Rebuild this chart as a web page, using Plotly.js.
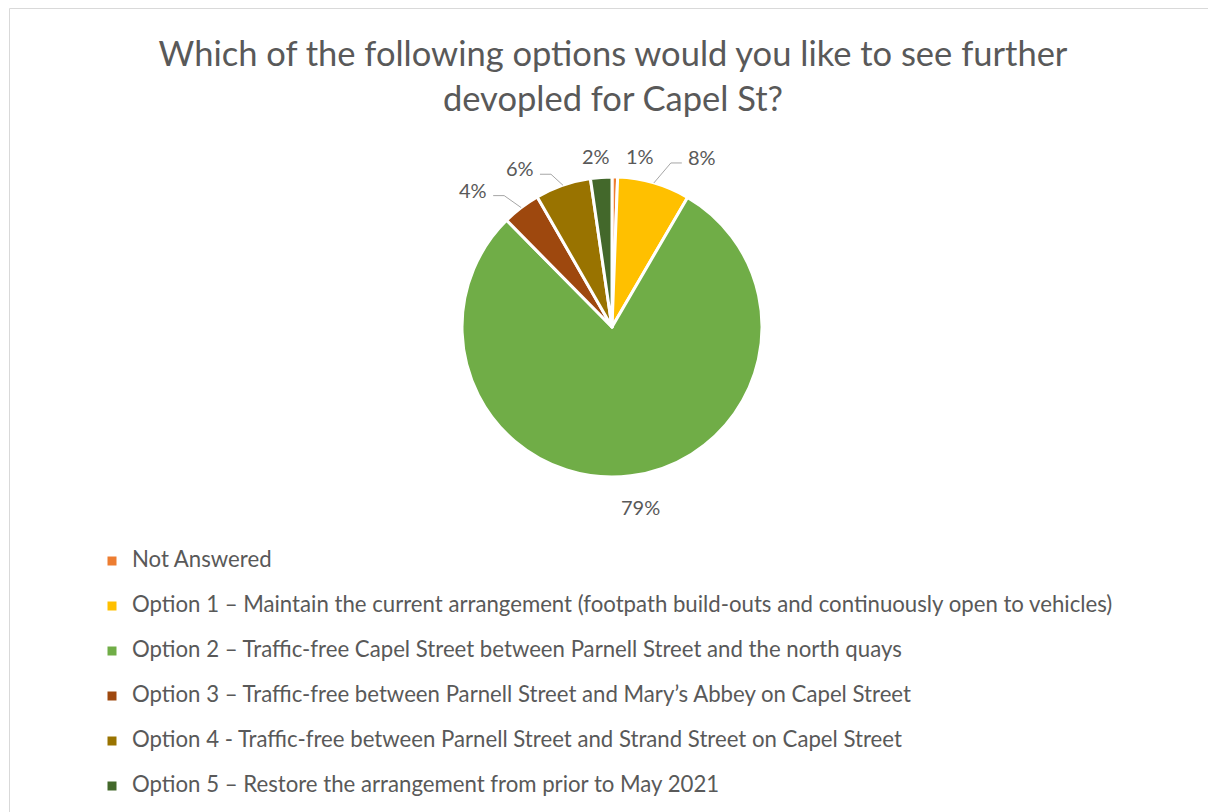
<!DOCTYPE html>
<html>
<head>
<meta charset="utf-8">
<script src="https://cdn.plot.ly/plotly-3.0.1.min.js"></script>
<style>html,body{margin:0;padding:0;background:#fff;}#chart{width:1208px;height:812px;}</style>
</head>
<body>
<div id="chart"></div>
<script>
// ---- data ----
var categories = [
  'Not Answered',
  'Option 1 \u2013 Maintain the current arrangement (footpath build-outs and continuously open to vehicles)',
  'Option 2 \u2013 Traffic-free Capel Street between Parnell Street and the north quays',
  'Option 3 \u2013 Traffic-free between Parnell Street and Mary\u2019s Abbey on Capel Street',
  'Option 4 - Traffic-free between Parnell Street and Strand Street on Capel Street',
  'Option 5 \u2013 Restore the arrangement from prior to May 2021'
];
var shares = [0.6, 7.8, 79.2, 4.1, 6.0, 2.3];
var colors = ['#ED7D31', '#FFC000', '#70AD47', '#9E480E', '#997300', '#43682B'];
var chartTitle = ['Which of the following options would you like to see further', 'devopled for Capel St?'];

// ---- layout geometry (pixels) ----
var W = 1208, H = 812;
var CX = 612, CY = 327, R = 150;
// label offsets (px) from the slice edge point at mid-angle
var labelOffset = [[25, -21], [48, -26], [10, 31], [-48, -18], [-43, -17], [-5, -21]];
var TXT = '#595959';

function px(x) { return x / W; }
function py(y) { return 1 - y / H; }

var total = shares.reduce(function (a, b) { return a + b; }, 0);
var annotations = [];
var shapes = [];
var cum = 0;
shares.forEach(function (v, i) {
  var mid = (cum + v / 2) / total * 2 * Math.PI;
  cum += v;
  var ex = CX + R * Math.sin(mid), ey = CY - R * Math.cos(mid);
  var lx = ex + labelOffset[i][0], ly = ey + labelOffset[i][1];
  annotations.push({
    xref: 'paper', yref: 'paper', x: px(lx), y: py(ly),
    xanchor: 'center', yanchor: 'middle', showarrow: false,
    text: Math.round(v / total * 100) + '%',
    font: {family: 'Lato, sans-serif', size: 20, color: TXT}
  });
  var dist = Math.sqrt(labelOffset[i][0] * labelOffset[i][0] + labelOffset[i][1] * labelOffset[i][1]);
  if (dist > 40) {
    var side = ex > lx ? 1 : -1;
    var elx = lx + side * 31, endx = lx + side * 20, ely = ly + 6;
    shapes.push({
      type: 'path', xref: 'paper', yref: 'paper',
      path: 'M' + px(ex) + ',' + py(ey) + ' L' + px(elx) + ',' + py(ely) + ' L' + px(endx) + ',' + py(ely),
      line: {color: '#A6A6A6', width: 1}
    });
  }
});

// chart border
shapes.push({
  type: 'rect', xref: 'paper', yref: 'paper',
  x0: px(9.5), x1: 1.05, y0: -0.05, y1: py(8.5),
  line: {color: '#D9D9D9', width: 1}, fillcolor: 'rgba(0,0,0,0)', layer: 'below'
});

var trace = {
  type: 'pie',
  labels: categories.map(function (c) { return '<span style="font-size:22.2px">' + c + '</span><br>&nbsp;'; }),
  values: shares,
  sort: false,
  direction: 'clockwise',
  rotation: 0,
  textinfo: 'none',
  hoverinfo: 'label+percent',
  marker: {colors: colors, line: {color: '#FFFFFF', width: 3}},
  domain: {x: [px(CX - R), px(CX + R)], y: [py(CY + R), py(CY - R)]}
};

var layout = {
  width: W, height: H,
  margin: {l: 0, r: 0, t: 0, b: 0, autoexpand: false},
  paper_bgcolor: '#FFFFFF',
  title: {
    text: chartTitle.join('<br>'),
    font: {family: 'Lato, sans-serif', size: 34.5, color: TXT},
    x: px(613), xanchor: 'center', y: py(66), yanchor: 'top'
  },
  showlegend: true,
  legend: {
    x: px(92), xanchor: 'left', y: py(544), yanchor: 'top',
    valign: 'top',
    font: {family: 'Lato, sans-serif', size: 16.15, color: TXT},
    bgcolor: 'rgba(0,0,0,0)'
  },
  annotations: annotations,
  shapes: shapes
};

Plotly.newPlot('chart', [trace], layout, {displayModeBar: false, staticPlot: true});
</script>
</body>
</html>
